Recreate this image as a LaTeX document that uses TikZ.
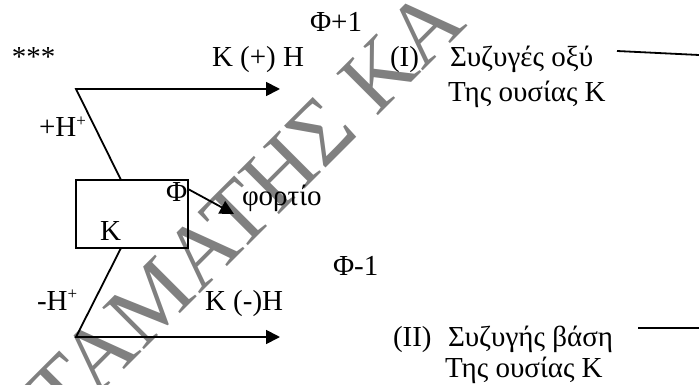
\documentclass[tikz,border=0pt]{standalone}
\usepackage{fontspec}
\setmainfont{Liberation Serif}
\usetikzlibrary{arrows.meta}
\tikzset{
  lbl/.style={anchor=base west, inner sep=0pt, outer sep=0pt, font=\fontsize{29}{35}\selectfont},
  ln/.style={line width=1.8pt, line join=miter},
  arr/.style={ln, -{Triangle[length=14pt, width=14pt]}},
  wm/.style={inner sep=0pt, text=gray, font=\fontsize{90}{90}\selectfont}
}
\newcommand{\sups}[1]{\raisebox{0.36em}{\fontsize{17}{17}\selectfont #1}}
\begin{document}
\begin{tikzpicture}[x=1pt,y=-1pt]
\useasboundingbox (0,0) rectangle (699,385);
\clip (0,0) rectangle (699,385);
% watermark
\node[wm, rotate=45] (wmark) at (226,226) {ΣΤΑΜΑΤΗΣ ΚΑ};
% box
\node[draw, line width=1.6pt, minimum width=112pt, minimum height=68pt, inner sep=0pt] (box) at (132,214) {};
\node[lbl] (k) at (100,240) {K};
\node[lbl] (phi) at (166,201) {Φ};
% labels
\node[lbl] (stars) at (12,67) {***};
\node[lbl] (kph) at (212,67) {K (+) H};
\node[lbl] (phip) at (310,32) {Φ+1};
\node[lbl] (one) at (390,67) {(I)};
\node[lbl] (acid) at (450,67) {Συζυγές οξύ};
\node[lbl] (acid2) at (448,102) {Της ουσίας Κ};
\node[lbl] (hp) at (39,137) {+H\sups{+}};
\node[lbl] (charge) at (242,205) {φορτίο};
\node[lbl] (hm) at (37,310) {-H\sups{+}};
\node[lbl] (kmh) at (205,310) {K (-)H};
\node[lbl] (phim) at (333,275) {Φ-1};
\node[lbl] (two) at (393,346) {(II)};
\node[lbl] (base) at (448,346) {Συζυγής βάση};
\node[lbl] (base2) at (445,377) {Της ουσίας Κ};
% connectors
\coordinate (ut) at (121,180);
\coordinate (ua) at (76,89);
\coordinate (ue) at (280,89);
\coordinate (lt) at (121,248);
\coordinate (la) at (76,337);
\coordinate (le) at (280,337);
\coordinate (ps) at (188,189);
\coordinate (pe) at (234,214);
\coordinate (r1a) at (617,51);
\coordinate (r1b) at (699,55);
\coordinate (r2a) at (638,328);
\coordinate (r2b) at (699,328);
\draw[arr] (ut) -- (ua) -- (ue);
\draw[arr] (lt) -- (la) -- (le);
\draw[arr] (ps) -- (pe);
\draw[ln] (r1a) -- (r1b);
\draw[ln] (r2a) -- (r2b);
\end{tikzpicture}
\end{document}
